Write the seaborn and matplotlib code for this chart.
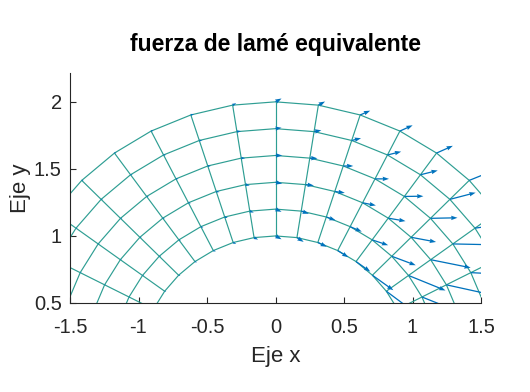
import numpy as np
import pandas as pd
import matplotlib
matplotlib.use("Agg")
import matplotlib.pyplot as plt
import seaborn as sns

# ---- data -------------------------------------------------------------
radii = [1.0, 1.2, 1.4, 1.6, 1.8, 2.0]
mesh_angles_deg = [0, 9, 18, 27, 36, 45, 54, 63, 72, 81, 90,
                   99, 108, 117, 126, 135, 144, 153, 162, 171, 180]

# arrows at nodes (angle in degrees), one value per radius (r = 1.0 ... 2.0)
arrow_angles_deg = [27, 36, 45, 54, 63, 72, 81, 90, 99, 108, 117, 126, 135, 144, 153]
u_r10 = [0.328, 0.255, 0.153, 0.104, 0.078, 0.066, 0.049, 0.044, 0.029, 0.022, 0.018, 0.015, 0.013, 0.011, 0.010]
u_r12 = [0.365, 0.270, 0.175, 0.117, 0.085, 0.068, 0.056, 0.044, 0.029, 0.022, 0.018, 0.015, 0.013, 0.011, 0.010]
u_r14 = [0.401, 0.292, 0.182, 0.126, 0.097, 0.073, 0.061, 0.049, 0.031, 0.024, 0.018, 0.015, 0.013, 0.011, 0.010]
u_r16 = [0.438, 0.328, 0.197, 0.139, 0.102, 0.073, 0.056, 0.049, 0.029, 0.022, 0.018, 0.015, 0.013, 0.011, 0.010]
u_r18 = [0.438, 0.307, 0.188, 0.126, 0.100, 0.068, 0.053, 0.044, 0.029, 0.022, 0.018, 0.015, 0.013, 0.011, 0.010]
u_r20 = [0.438, 0.292, 0.182, 0.119, 0.093, 0.073, 0.049, 0.044, 0.026, 0.022, 0.018, 0.015, 0.013, 0.011, 0.010]
v_r10 = [-0.261, -0.194, -0.112, -0.075, -0.050, -0.032, -0.032, -0.025, -0.015, -0.011, -0.007, -0.006, -0.005, -0.004, -0.003]
v_r12 = [-0.149, -0.112, -0.067, -0.040, -0.037, -0.025, -0.020, -0.020, -0.011, -0.007, -0.007, -0.004, -0.003, -0.003, -0.002]
v_r14 = [-0.090, -0.060, -0.035, -0.022, -0.020, -0.010, -0.007, -0.010, -0.007, -0.004, -0.003, -0.002, -0.001, -0.001, -0.001]
v_r16 = [-0.022, -0.007, 0.004, 0.002, 0.000, 0.000, -0.002, 0.000, 0.000, 0.000, 0.000, 0.000, 0.000, 0.000, 0.000]
v_r18 = [0.045, 0.045, 0.050, 0.032, 0.025, 0.017, 0.010, 0.007, 0.004, 0.000, 0.000, 0.000, 0.000, 0.000, 0.000]
v_r20 = [0.112, 0.104, 0.075, 0.054, 0.043, 0.032, 0.027, 0.025, 0.015, 0.007, 0.004, 0.003, 0.002, 0.002, 0.001]

x_ticks = [-1.5, -1, -0.5, 0, 0.5, 1, 1.5]
x_ticklabels = ["-1.5", "-1", "-0.5", "0", "0.5", "1", "1.5"]
y_ticks = [0.5, 1, 1.5, 2]
y_ticklabels = ["0.5", "1", "1.5", "2"]

title = "fuerza de lamé equivalente"
xlabel = "Eje x"
ylabel = "Eje y"

# ---- style ------------------------------------------------------------
sns.set_theme(style="ticks")
plt.rcParams['font.family'] = ['Liberation Sans', 'DejaVu Sans']

mesh_color = "#2E9E93"
arrow_color = "#0072BD"
axis_color = "#262626"

# ---- build mesh lines -------------------------------------------------
rows = []
lid = 0
th_all = np.deg2rad(mesh_angles_deg)
for r in radii:  # arcs
    for t in th_all:
        rows.append((lid, r * np.cos(t), r * np.sin(t)))
    lid += 1
for t in th_all:  # radial lines
    for r in radii:
        rows.append((lid, r * np.cos(t), r * np.sin(t)))
    lid += 1
mesh = pd.DataFrame(rows, columns=["line", "x", "y"])

U = [u_r10, u_r12, u_r14, u_r16, u_r18, u_r20]
V = [v_r10, v_r12, v_r14, v_r16, v_r18, v_r20]
arows = []
for r, ur, vr in zip(radii, U, V):
    for a, uu, vv in zip(arrow_angles_deg, ur, vr):
        t = np.deg2rad(a)
        arows.append((r * np.cos(t), r * np.sin(t), uu, vv))
arr = pd.DataFrame(arows, columns=["x", "y", "u", "v"])

# ---- figure -----------------------------------------------------------
fig = plt.figure(figsize=(5.30, 3.92), dpi=100)
ax = fig.add_axes([70 / 530, 1 - 303 / 392, 411 / 530, 230 / 392])

sns.lineplot(data=mesh, x="x", y="y", units="line", estimator=None,
             sort=False, color=mesh_color, lw=0.85, ax=ax, legend=False)

ax.quiver(arr["x"], arr["y"], arr["u"], arr["v"], angles="xy",
          scale_units="xy", scale=1, color=arrow_color, width=0.0031,
          headwidth=3.5, headlength=5, headaxislength=4.6, minlength=0.3,
          zorder=3)

ax.set_xlim(-1.5, 1.5)
ax.set_ylim(0.5, 2.215)
ax.set_xticks(x_ticks)
ax.set_xticklabels(x_ticklabels)
ax.set_yticks(y_ticks)
ax.set_yticklabels(y_ticklabels)

for s in ["top", "right"]:
    ax.spines[s].set_visible(False)
for s in ["left", "bottom"]:
    ax.spines[s].set_color(axis_color)
    ax.spines[s].set_linewidth(0.8)
ax.tick_params(direction="in", length=4, width=0.8, colors=axis_color,
               labelsize=14.5)
ax.tick_params(axis="x", pad=10.5)
ax.tick_params(axis="y", pad=6)

ax.set_xlabel(xlabel, fontsize=16, color=axis_color, labelpad=6.5)
ax.set_ylabel(ylabel, fontsize=16, color=axis_color, labelpad=2)
ax.set_title(title, fontsize=16.5, fontweight="bold", color="black", pad=16)

fig.savefig("out.png", dpi=100)
